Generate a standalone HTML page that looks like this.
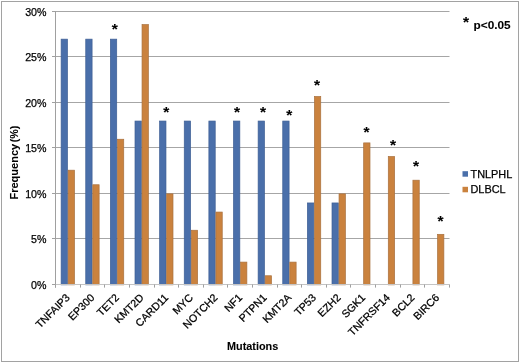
<!DOCTYPE html><html><head><meta charset="utf-8"><style>html,body{margin:0;padding:0;background:#fff;}svg{display:block;will-change:transform;}text{font-family:"Liberation Sans",sans-serif;stroke:#000;stroke-width:0.25px;}text[font-weight]{stroke-width:0.08px;}</style></head><body>
<svg width="520" height="363" viewBox="0 0 520 363">
<rect x="0" y="0" width="520" height="363" fill="#fff"/>
<rect x="1.5" y="1.5" width="517" height="360" fill="none" stroke="#A2A2A2" stroke-width="1"/>
<line x1="55.5" y1="11.5" x2="449.5" y2="11.5" stroke="#A6A6A6" stroke-width="1"/>
<line x1="55.5" y1="56.5" x2="449.5" y2="56.5" stroke="#A6A6A6" stroke-width="1"/>
<line x1="55.5" y1="102.5" x2="449.5" y2="102.5" stroke="#A6A6A6" stroke-width="1"/>
<line x1="55.5" y1="147.5" x2="449.5" y2="147.5" stroke="#A6A6A6" stroke-width="1"/>
<line x1="55.5" y1="193.5" x2="449.5" y2="193.5" stroke="#A6A6A6" stroke-width="1"/>
<line x1="55.5" y1="238.5" x2="449.5" y2="238.5" stroke="#A6A6A6" stroke-width="1"/>
<rect x="61.13" y="39.15" width="6.336" height="245.70" fill="#4A6FAA" stroke="#3E5F94" stroke-width="0.7"/>
<rect x="68.16" y="170.19" width="6.336" height="114.66" fill="#CA823E" stroke="#A9713F" stroke-width="0.7"/>
<rect x="85.75" y="39.15" width="6.336" height="245.70" fill="#4A6FAA" stroke="#3E5F94" stroke-width="0.7"/>
<rect x="92.79" y="184.75" width="6.336" height="100.10" fill="#CA823E" stroke="#A9713F" stroke-width="0.7"/>
<rect x="110.38" y="39.15" width="6.336" height="245.70" fill="#4A6FAA" stroke="#3E5F94" stroke-width="0.7"/>
<rect x="117.41" y="139.25" width="6.336" height="145.60" fill="#CA823E" stroke="#A9713F" stroke-width="0.7"/>
<rect x="135.00" y="121.05" width="6.336" height="163.80" fill="#4A6FAA" stroke="#3E5F94" stroke-width="0.7"/>
<rect x="142.04" y="24.59" width="6.336" height="260.26" fill="#CA823E" stroke="#A9713F" stroke-width="0.7"/>
<rect x="159.63" y="121.05" width="6.336" height="163.80" fill="#4A6FAA" stroke="#3E5F94" stroke-width="0.7"/>
<rect x="166.66" y="193.85" width="6.336" height="91.00" fill="#CA823E" stroke="#A9713F" stroke-width="0.7"/>
<rect x="184.25" y="121.05" width="6.336" height="163.80" fill="#4A6FAA" stroke="#3E5F94" stroke-width="0.7"/>
<rect x="191.29" y="230.25" width="6.336" height="54.60" fill="#CA823E" stroke="#A9713F" stroke-width="0.7"/>
<rect x="208.88" y="121.05" width="6.336" height="163.80" fill="#4A6FAA" stroke="#3E5F94" stroke-width="0.7"/>
<rect x="215.91" y="212.05" width="6.336" height="72.80" fill="#CA823E" stroke="#A9713F" stroke-width="0.7"/>
<rect x="233.50" y="121.05" width="6.336" height="163.80" fill="#4A6FAA" stroke="#3E5F94" stroke-width="0.7"/>
<rect x="240.54" y="262.10" width="6.336" height="22.75" fill="#CA823E" stroke="#A9713F" stroke-width="0.7"/>
<rect x="258.13" y="121.05" width="6.336" height="163.80" fill="#4A6FAA" stroke="#3E5F94" stroke-width="0.7"/>
<rect x="265.16" y="275.75" width="6.336" height="9.10" fill="#CA823E" stroke="#A9713F" stroke-width="0.7"/>
<rect x="282.75" y="121.05" width="6.336" height="163.80" fill="#4A6FAA" stroke="#3E5F94" stroke-width="0.7"/>
<rect x="289.79" y="262.10" width="6.336" height="22.75" fill="#CA823E" stroke="#A9713F" stroke-width="0.7"/>
<rect x="307.38" y="202.95" width="6.336" height="81.90" fill="#4A6FAA" stroke="#3E5F94" stroke-width="0.7"/>
<rect x="314.41" y="96.48" width="6.336" height="188.37" fill="#CA823E" stroke="#A9713F" stroke-width="0.7"/>
<rect x="332.00" y="202.95" width="6.336" height="81.90" fill="#4A6FAA" stroke="#3E5F94" stroke-width="0.7"/>
<rect x="339.04" y="193.85" width="6.336" height="91.00" fill="#CA823E" stroke="#A9713F" stroke-width="0.7"/>
<rect x="363.66" y="142.89" width="6.336" height="141.96" fill="#CA823E" stroke="#A9713F" stroke-width="0.7"/>
<rect x="388.29" y="156.54" width="6.336" height="128.31" fill="#CA823E" stroke="#A9713F" stroke-width="0.7"/>
<rect x="412.91" y="180.20" width="6.336" height="104.65" fill="#CA823E" stroke="#A9713F" stroke-width="0.7"/>
<rect x="437.54" y="234.34" width="6.336" height="50.50" fill="#CA823E" stroke="#A9713F" stroke-width="0.7"/>
<line x1="55.5" y1="11" x2="55.5" y2="287.6" stroke="#A0A0A0" stroke-width="1"/>
<line x1="55.5" y1="284.5" x2="449.5" y2="284.5" stroke="#C4C4C4" stroke-width="1"/>
<line x1="52" y1="11.5" x2="55.5" y2="11.5" stroke="#A0A0A0" stroke-width="1"/>
<line x1="52" y1="56.5" x2="55.5" y2="56.5" stroke="#A0A0A0" stroke-width="1"/>
<line x1="52" y1="102.5" x2="55.5" y2="102.5" stroke="#A0A0A0" stroke-width="1"/>
<line x1="52" y1="147.5" x2="55.5" y2="147.5" stroke="#A0A0A0" stroke-width="1"/>
<line x1="52" y1="193.5" x2="55.5" y2="193.5" stroke="#A0A0A0" stroke-width="1"/>
<line x1="52" y1="238.5" x2="55.5" y2="238.5" stroke="#A0A0A0" stroke-width="1"/>
<line x1="52" y1="284.5" x2="55.5" y2="284.5" stroke="#A0A0A0" stroke-width="1"/>
<line x1="55.5" y1="284.5" x2="55.5" y2="287.6" stroke="#A0A0A0" stroke-width="1"/>
<line x1="80.5" y1="284.5" x2="80.5" y2="287.6" stroke="#A0A0A0" stroke-width="1"/>
<line x1="104.5" y1="284.5" x2="104.5" y2="287.6" stroke="#A0A0A0" stroke-width="1"/>
<line x1="129.5" y1="284.5" x2="129.5" y2="287.6" stroke="#A0A0A0" stroke-width="1"/>
<line x1="154.5" y1="284.5" x2="154.5" y2="287.6" stroke="#A0A0A0" stroke-width="1"/>
<line x1="178.5" y1="284.5" x2="178.5" y2="287.6" stroke="#A0A0A0" stroke-width="1"/>
<line x1="203.5" y1="284.5" x2="203.5" y2="287.6" stroke="#A0A0A0" stroke-width="1"/>
<line x1="227.5" y1="284.5" x2="227.5" y2="287.6" stroke="#A0A0A0" stroke-width="1"/>
<line x1="252.5" y1="284.5" x2="252.5" y2="287.6" stroke="#A0A0A0" stroke-width="1"/>
<line x1="277.5" y1="284.5" x2="277.5" y2="287.6" stroke="#A0A0A0" stroke-width="1"/>
<line x1="301.5" y1="284.5" x2="301.5" y2="287.6" stroke="#A0A0A0" stroke-width="1"/>
<line x1="326.5" y1="284.5" x2="326.5" y2="287.6" stroke="#A0A0A0" stroke-width="1"/>
<line x1="350.5" y1="284.5" x2="350.5" y2="287.6" stroke="#A0A0A0" stroke-width="1"/>
<line x1="375.5" y1="284.5" x2="375.5" y2="287.6" stroke="#A0A0A0" stroke-width="1"/>
<line x1="400.5" y1="284.5" x2="400.5" y2="287.6" stroke="#A0A0A0" stroke-width="1"/>
<line x1="424.5" y1="284.5" x2="424.5" y2="287.6" stroke="#A0A0A0" stroke-width="1"/>
<line x1="449.5" y1="284.5" x2="449.5" y2="287.6" stroke="#A0A0A0" stroke-width="1"/>
<text x="46.5" y="16.0" font-size="10.67" text-anchor="end" fill="#000">30%</text>
<text x="46.5" y="61.0" font-size="10.67" text-anchor="end" fill="#000">25%</text>
<text x="46.5" y="107.0" font-size="10.67" text-anchor="end" fill="#000">20%</text>
<text x="46.5" y="152.0" font-size="10.67" text-anchor="end" fill="#000">15%</text>
<text x="46.5" y="198.0" font-size="10.67" text-anchor="end" fill="#000">10%</text>
<text x="46.5" y="243.0" font-size="10.67" text-anchor="end" fill="#000">5%</text>
<text x="46.5" y="289.0" font-size="10.67" text-anchor="end" fill="#000">0%</text>
<text transform="translate(70.51,298.3) rotate(-45)" font-size="10.67" text-anchor="end" fill="#000">TNFAIP3</text>
<text transform="translate(95.14,298.3) rotate(-45)" font-size="10.67" text-anchor="end" fill="#000">EP300</text>
<text transform="translate(119.76,298.3) rotate(-45)" font-size="10.67" text-anchor="end" fill="#000">TET2</text>
<text transform="translate(144.39,298.3) rotate(-45)" font-size="10.67" text-anchor="end" fill="#000">KMT2D</text>
<text transform="translate(169.01,298.3) rotate(-45)" font-size="10.67" text-anchor="end" fill="#000">CARD11</text>
<text transform="translate(193.64,298.3) rotate(-45)" font-size="10.67" text-anchor="end" fill="#000">MYC</text>
<text transform="translate(218.26,298.3) rotate(-45)" font-size="10.67" text-anchor="end" fill="#000">NOTCH2</text>
<text transform="translate(242.89,298.3) rotate(-45)" font-size="10.67" text-anchor="end" fill="#000">NF1</text>
<text transform="translate(267.51,298.3) rotate(-45)" font-size="10.67" text-anchor="end" fill="#000">PTPN1</text>
<text transform="translate(292.14,298.3) rotate(-45)" font-size="10.67" text-anchor="end" fill="#000">KMT2A</text>
<text transform="translate(316.76,298.3) rotate(-45)" font-size="10.67" text-anchor="end" fill="#000">TP53</text>
<text transform="translate(341.39,298.3) rotate(-45)" font-size="10.67" text-anchor="end" fill="#000">EZH2</text>
<text transform="translate(366.01,298.3) rotate(-45)" font-size="10.67" text-anchor="end" fill="#000">SGK1</text>
<text transform="translate(390.64,298.3) rotate(-45)" font-size="10.67" text-anchor="end" fill="#000">TNFRSF14</text>
<text transform="translate(415.26,298.3) rotate(-45)" font-size="10.67" text-anchor="end" fill="#000">BCL2</text>
<text transform="translate(439.89,298.3) rotate(-45)" font-size="10.67" text-anchor="end" fill="#000">BIRC6</text>
<text x="114.8" y="34.40" font-size="15.5" font-weight="bold" text-anchor="middle" fill="#000">*</text>
<text x="166.2" y="117.35" font-size="15.5" font-weight="bold" text-anchor="middle" fill="#000">*</text>
<text x="236.9" y="117.25" font-size="15.5" font-weight="bold" text-anchor="middle" fill="#000">*</text>
<text x="263.0" y="117.25" font-size="15.5" font-weight="bold" text-anchor="middle" fill="#000">*</text>
<text x="289.3" y="120.15" font-size="15.5" font-weight="bold" text-anchor="middle" fill="#000">*</text>
<text x="317.0" y="89.80" font-size="15.5" font-weight="bold" text-anchor="middle" fill="#000">*</text>
<text x="366.5" y="137.40" font-size="15.5" font-weight="bold" text-anchor="middle" fill="#000">*</text>
<text x="393.1" y="149.50" font-size="15.5" font-weight="bold" text-anchor="middle" fill="#000">*</text>
<text x="416.1" y="171.30" font-size="15.5" font-weight="bold" text-anchor="middle" fill="#000">*</text>
<text x="440.4" y="225.70" font-size="15.5" font-weight="bold" text-anchor="middle" fill="#000">*</text>
<text transform="translate(17.5,199.5) rotate(-90)" font-size="10.67" font-weight="bold" fill="#000"><tspan font-size="11">Frequency</tspan><tspan dx="1.5">(%)</tspan></text>
<text x="252.6" y="349.6" font-size="10.85" font-weight="bold" text-anchor="middle" fill="#000">Mutations</text>
<text x="465.9" y="26.90" font-size="15.5" font-weight="bold" text-anchor="middle" fill="#000">*</text>
<text x="473.6" y="28.75" font-size="11.8" font-weight="bold" fill="#000">p&lt;0.05</text>
 <rect x="462.5" y="171.2" width="5.5" height="5.5" fill="#4A6FAA"/>
 <rect x="462.5" y="186.8" width="5.5" height="5.5" fill="#CA823E"/>
<text x="470.5" y="177.6" font-size="10.9" fill="#000">TNLPHL</text>
<text x="470.5" y="193.4" font-size="10.9" fill="#000">DLBCL</text>
</svg></body></html>
